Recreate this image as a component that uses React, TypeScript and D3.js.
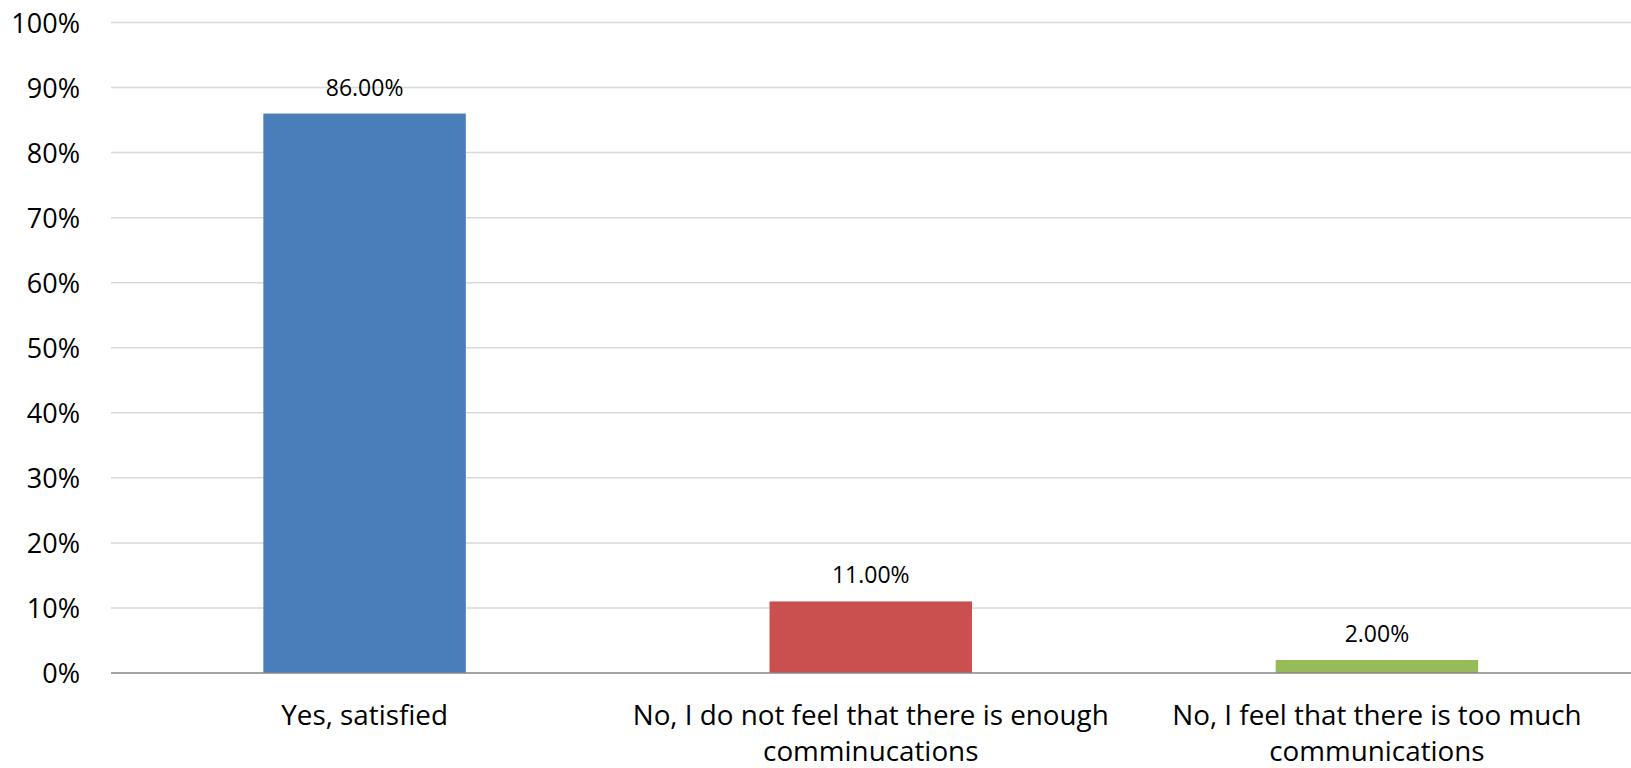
import React from "react";
import * as d3 from "d3";

const categories = ["Yes, satisfied", "No, I do not feel that there is enough comminucations", "No, I feel that there is too much communications"];
const categoryLines = [["Yes, satisfied"], ["No, I do not feel that there is enough", "comminucations"], ["No, I feel that there is too much", "communications"]];
const values = [0.86, 0.11, 0.02];
const valueLabels = ["86.00%", "11.00%", "2.00%"];
const barColors = ["#4A7EBB", "#C9504F", "#98BB59"];
const yTicks = [0, 0.1, 0.2, 0.3, 0.4, 0.5, 0.6, 0.7, 0.8, 0.9, 1.0];

const W = 1631;
const H = 768;
const FONT = "'Open Sans', 'Noto Sans', sans-serif";

export default function App() {
  const x = d3.scaleBand<string>().domain(categories).range([111.5, 1630]).paddingInner(0.6).paddingOuter(0.3);
  const y = d3.scaleLinear().domain([0, 1]).range([673, 22.5]);
  const fmt = d3.format(".0%");
  return (
    <svg width={W} height={H} style={{ position: "absolute", left: 0, top: 0, background: "#fff" }} fontFamily={FONT}>
      {yTicks.map((t) => (
        <g key={t}>
          {t > 0 && <line x1={111} x2={1631} y1={y(t)} y2={y(t)} stroke="#D9D9D9" strokeWidth={1.5} />}
          <text x={80} y={y(t) + 10} textAnchor="end" fontSize={27} fill="#000">{fmt(t)}</text>
        </g>
      ))}
      {categories.map((c, i) => (
        <g key={c}>
          <rect x={x(c)} y={y(values[i])} width={x.bandwidth()} height={y(0) - y(values[i])} fill={barColors[i]} />
          <text x={(x(c) as number) + x.bandwidth() / 2} y={y(values[i]) - 18} textAnchor="middle" fontSize={23} fill="#000">{valueLabels[i]}</text>
          {categoryLines[i].map((ln, j) => (
            <text key={j} x={(x(c) as number) + x.bandwidth() / 2} y={725 + j * 35.5} textAnchor="middle" fontSize={27.8} fill="#000">{ln}</text>
          ))}
        </g>
      ))}
      <line x1={111} x2={1631} y1={y(0)} y2={y(0)} stroke="#868686" strokeWidth={1.5} />
    </svg>
  );
}
